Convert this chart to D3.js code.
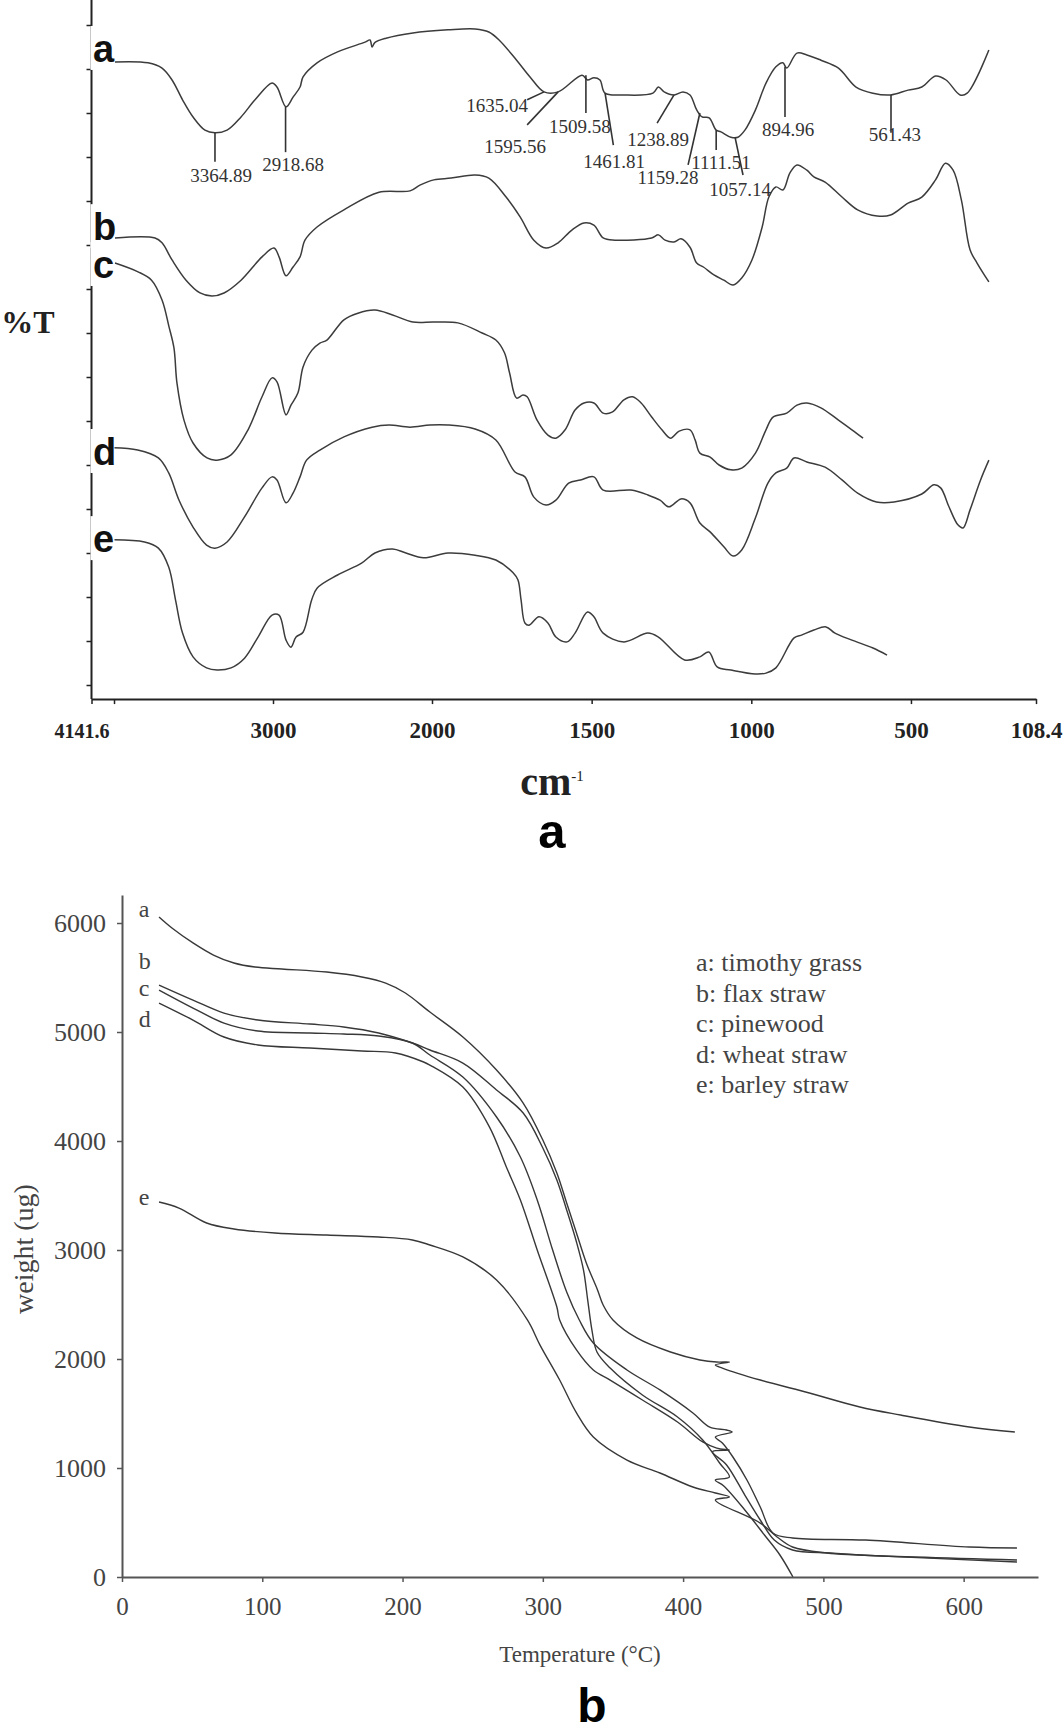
<!DOCTYPE html>
<html><head><meta charset="utf-8">
<script src="https://cdn.jsdelivr.net/npm/d3@7"></script>
<style>body{margin:0;background:#fff}svg{display:block}</style>
</head><body>
<svg id="c" width="1063" height="1733"></svg>
<script>
// ---------------- DATA: panel a (FTIR) ----------------
const ftirXTicks = [4141.6, 4000, 3000, 2000, 1500, 1000, 500, 108.4];
const ftirXTickLabels = ["4141.6", "", "3000", "2000", "1500", "1000", "500", "108.4"];
const ftirYTicks = [0,10,20,30,40,50,60,70,80,90,100,110,120,130,140,150];
const ftirYExtent = [-3.2, 155.7];
const spectrumLetters = ["a","b","c","d","e"];
const spectrumLetterY = [141.6, 101.1, 92.5, 50.0, 30.2];

const specA = [[3994,141.6],[3786,141.4],[3698,140.2],[3635,137.5],[3569,133.0],[3503,129.1],[3428,126.1],[3365,125.5],[3289,126.1],[3201,129.1],[3113,133.0],[3006,136.8],[2975,135.9],[2918,131.4],[2874,133.6],[2830,135.9],[2811,138.2],[2723,141.4],[2594,143.9],[2421,146.1],[2390,146.6],[2377,145.0],[2360,146.0],[2289,147.0],[2120,148.2],[1950,148.9],[1865,149.1],[1822,148.4],[1790,146.6],[1735,142.0],[1693,138.2],[1649,134.8],[1605,134.8],[1530,138.6],[1513,137.5],[1493,138.0],[1474,137.5],[1458,134.5],[1399,134.1],[1308,134.5],[1291,135.9],[1273,134.8],[1242,134.1],[1214,134.8],[1192,134.1],[1171,130.7],[1154,129.1],[1132,128.9],[1110,126.1],[1095,125.7],[1064,124.5],[1042,124.5],[1020,126.1],[987,130.7],[954,136.8],[923,140.5],[901,141.4],[889,140.2],[857,143.6],[826,143.2],[782,142.0],[727,140.2],[672,135.9],[619,134.5],[564,134.1],[509,135.2],[466,135.9],[423,138.4],[390,137.5],[346,134.1],[324,134.5],[256,144.3]];
const specB = [[3994,101.6],[3742,101.6],[3698,100.5],[3635,96.6],[3547,92.0],[3459,89.1],[3384,88.4],[3308,89.1],[3201,92.0],[3069,97.3],[2994,99.3],[2962,97.3],[2918,93.0],[2874,95.0],[2830,97.3],[2799,101.1],[2723,104.1],[2554,108.0],[2333,112.0],[2138,112.3],[2076,113.6],[1994,114.8],[1940,115.2],[1865,115.9],[1822,115.2],[1768,110.9],[1724,106.4],[1681,101.1],[1643,99.3],[1605,100.5],[1562,103.4],[1524,105.0],[1493,104.5],[1464,101.6],[1427,101.1],[1312,101.6],[1291,102.3],[1270,101.1],[1242,100.7],[1220,101.4],[1192,99.5],[1171,95.9],[1150,95.0],[1117,93.2],[1086,92.0],[1057,90.9],[1030,92.5],[998,96.6],[966,104.1],[945,110.9],[923,113.2],[901,112.5],[879,116.4],[857,118.2],[826,117.0],[804,115.5],[769,114.3],[716,110.9],[667,108.0],[606,106.6],[564,106.8],[509,109.5],[466,110.9],[423,114.8],[392,118.6],[368,117.0],[342,110.2],[315,98.9],[293,95.9],[256,91.6]];
const specC = [[3994,95.9],[3849,93.9],[3764,92.0],[3698,87.5],[3654,81.4],[3623,76.6],[3604,68.6],[3560,60.2],[3503,55.0],[3415,51.6],[3352,51.1],[3264,52.3],[3157,58.0],[3069,65.5],[3006,69.8],[2975,68.9],[2918,61.4],[2887,63.6],[2843,66.4],[2811,72.3],[2755,76.1],[2705,77.7],[2661,78.4],[2554,83.0],[2466,84.5],[2359,85.2],[2248,84.1],[2120,82.5],[1994,82.5],[1919,82.3],[1843,80.0],[1800,78.4],[1773,75.5],[1757,70.9],[1735,65.2],[1715,65.9],[1702,65.5],[1671,60.2],[1637,56.8],[1612,56.1],[1583,58.0],[1552,62.5],[1524,64.1],[1493,64.1],[1464,61.8],[1436,62.0],[1399,64.8],[1372,65.5],[1345,64.1],[1312,60.9],[1280,58.0],[1253,56.1],[1226,57.7],[1192,58.0],[1176,55.7],[1161,52.7],[1129,51.8],[1101,50.0],[1064,48.9],[1030,49.3],[987,52.7],[954,58.0],[932,60.9],[889,61.8],[857,63.6],[826,64.1],[782,63.0],[727,60.2],[685,58.0],[650,56.1]];
const specD = [[4003,53.9],[3851,53.4],[3721,51.6],[3656,48.2],[3591,42.0],[3503,35.9],[3418,31.8],[3365,31.1],[3289,32.5],[3179,38.2],[3069,44.8],[3006,47.3],[2975,46.6],[2918,41.4],[2874,43.6],[2830,47.3],[2789,51.1],[2705,53.4],[2554,56.4],[2377,58.6],[2271,59.1],[2138,58.6],[2013,59.1],[1950,59.1],[1865,58.2],[1800,55.7],[1740,48.4],[1709,47.3],[1681,42.7],[1643,40.9],[1612,42.0],[1572,45.9],[1535,46.6],[1493,47.3],[1464,44.3],[1377,44.3],[1324,43.2],[1286,42.0],[1258,40.5],[1220,42.3],[1192,41.4],[1161,36.8],[1129,34.8],[1086,31.4],[1057,29.3],[1030,30.7],[987,38.0],[948,45.9],[923,48.2],[889,49.3],[866,51.6],[826,50.7],[769,49.5],[716,46.6],[667,43.6],[608,41.6],[553,41.6],[466,43.4],[428,45.5],[407,44.8],[381,40.5],[353,36.4],[337,35.7],[315,39.8],[282,46.6],[256,51.1]];
const specE = [[4003,33.0],[3808,32.5],[3721,31.1],[3656,26.8],[3613,19.3],[3569,11.8],[3503,6.4],[3418,3.9],[3352,3.4],[3264,3.9],[3179,6.1],[3094,10.9],[3006,15.9],[2962,15.9],[2918,10.2],[2887,8.6],[2855,10.9],[2811,12.0],[2757,19.3],[2723,22.0],[2594,25.0],[2443,27.7],[2359,30.0],[2248,30.9],[2164,30.0],[2053,28.9],[1950,30.0],[1865,29.5],[1800,28.4],[1746,25.5],[1731,23.9],[1721,19.3],[1709,14.1],[1696,13.6],[1665,15.5],[1637,14.1],[1612,10.9],[1577,9.8],[1552,11.8],[1513,16.6],[1493,15.5],[1464,11.8],[1399,9.8],[1324,11.8],[1291,10.9],[1209,5.7],[1161,6.4],[1133,7.5],[1107,4.1],[1064,3.4],[987,2.5],[954,2.7],[923,3.9],[866,10.7],[841,11.4],[804,12.5],[766,13.2],[738,11.8],[685,10.2],[619,8.4],[575,6.8]];

const peakLabels = ["3364.89","2918.68","1635.04","1595.56","1509.58","1461.81","1238.89","1159.28","1111.51","1057.14","894.96","561.43"];
const peakLeaders = [[3365,125.5,3365,118.9],[2921,131.4,2921,121.1],[1649,134.8,1702,133.0],[1605,134.8,1702,127.3],[1518,138.6,1518,130.0],[1458,134.5,1432,122.7],[1242,134.1,1295,127.7],[1161,130.0,1198,118.2],[1110,126.1,1110,121.6],[1051,124.5,1026,115.9],[894.5,140.5,894.5,129.1],[562.5,134.1,562.5,125.5]];
const peakLabelPos = [[3327,114.3],[2874,116.8],[1796,130.2],[1740,120.9],[1537,125.5],[1430,117.5],[1292,122.5],[1261,113.9],[1095,117.3],[1035,111.1],[885,124.8],[550,123.6]];

// ---------------- DATA: panel b (TGA) ----------------
const tgaXTicks = [0,100,200,300,400,500,600];
const tgaYTicks = [0,1000,2000,3000,4000,5000,6000];
const tgaLetters = ["a","b","c","d","e"];
const tgaLetterW = [6055, 5580, 5330, 5046, 3413];
const legendItems = ["a: timothy grass","b: flax straw","c: pinewood","d: wheat straw","e: barley straw"];

const tgaA = [[26.4,6055],[35.6,5954],[50.6,5817],[65.2,5706],[79.8,5633],[94.8,5596],[114,5578],[146,5550],[171,5505],[188,5449],[202,5358],[219.5,5183],[243,4954],[267,4651],[286,4348],[300,4009],[310,3706],[317,3431],[324,3156],[331,2881],[339,2633],[343,2495],[350,2358],[367,2193],[391,2064],[412,1991],[424,1972],[433,1972],[423,1945],[428,1917],[455,1807],[490,1688],[526,1560],[555,1486],[604,1376],[636.5,1330]];
const tgaB = [[26.4,5431],[50.6,5293],[72.7,5174],[96.9,5110],[134,5073],[158,5046],[183,4991],[207,4899],[219.5,4835],[243,4715],[267,4468],[286,4257],[300,3936],[310,3642],[317,3367],[324,3073],[329,2816],[332,2541],[335,2266],[338.6,2064],[348,1917],[371,1670],[396,1468],[414,1257],[426,1046],[433,917],[423,890],[429,835],[444,615],[458,385],[469,202],[478.3,0]];
const tgaC = [[26.4,5385],[50.6,5220],[72.7,5082],[96.9,5009],[134,4991],[158,4982],[183,4963],[207,4899],[219.5,4789],[243,4587],[267,4220],[284,3853],[296,3459],[307,3000],[317,2615],[326,2358],[336,2147],[360,1899],[383.5,1716],[407,1505],[419,1376],[431,1349],[435,1330],[423,1284],[428,1229],[435.5,1101],[445.5,890],[455,642],[464,404],[478,358],[530,339],[604,275],[638,266]];
const tgaD = [[26.4,5266],[50.6,5110],[72.7,4954],[96.9,4881],[134,4853],[171,4826],[195,4807],[215,4725],[219.5,4697],[243,4495],[262,4128],[274,3761],[284,3459],[296,3000],[310,2477],[312,2358],[324,2083],[336,1899],[348,1807],[371,1624],[396,1422],[414,1239],[424,1183],[433,1165],[421,1150],[431,1028],[444,752],[455,523],[465,339],[478,248],[505,220],[526,202],[638,156]];
const tgaE = [[26.4,3440],[40.6,3385],[60.3,3248],[79.8,3193],[109,3156],[146,3137],[183,3119],[207,3092],[219.5,3046],[243,2936],[267,2725],[289,2358],[298,2128],[312,1807],[324,1505],[336,1284],[360,1073],[383.5,954],[407,826],[423,771],[433,734],[423,706],[455,495],[467,367],[478,275],[502.5,220],[526,202],[638,138]];

// ---------------- DRAW ----------------
const svg = d3.select("#c");
const SERIF = "'Liberation Serif','Times New Roman',serif";
const SANS = "'Liberation Sans',Arial,sans-serif";

// ===== Panel a =====
const xF = d3.scaleLinear().domain([4141.6, 2000, 108.4]).range([91.5, 432, 1036]);
const yF = d3.scaleLinear().domain([0, 150]).range([685, 25]);
const lineF = d3.line().x(d => xF(d[0])).y(d => yF(d[1])).curve(d3.curveCatmullRom.alpha(0.5));

const pA = svg.append("g");
pA.append("g").selectAll("path").data([specA, specB, specC, specD, specE]).join("path")
  .attr("d", lineF).attr("fill", "none").attr("stroke", "#3c3c3c").attr("stroke-width", 1.5);

// y axis (unlabelled ticks)
const gYF = pA.append("g").attr("transform", `translate(${xF(4141.6)},0)`)
  .call(d3.axisLeft(yF).tickValues(ftirYTicks).tickSize(5).tickFormat(""));
gYF.select(".domain").remove();
gYF.selectAll(".tick line").attr("stroke", "#222").attr("stroke-width", 1.5);
gYF.append("line").attr("x1", 0).attr("x2", 0).attr("y1", yF(ftirYExtent[1])).attr("y2", yF(ftirYExtent[0]))
  .attr("stroke", "#222").attr("stroke-width", 2);

// x axis
const gXF = pA.append("g").attr("transform", `translate(0,${yF(ftirYExtent[0])})`)
  .call(d3.axisBottom(xF).tickValues(ftirXTicks).tickSize(5).tickSizeOuter(0).tickFormat((d, i) => ftirXTickLabels[i]));
gXF.select(".domain").attr("stroke", "#222").attr("stroke-width", 2);
gXF.selectAll(".tick line").attr("stroke", "#222").attr("stroke-width", 1.5);
gXF.selectAll("text").attr("dy", null).attr("y", 39).attr("font-family", SERIF).attr("font-weight", "bold")
  .attr("font-size", (d, i) => i === 0 ? 20 : 23).attr("fill", "#222").attr("dx", (d, i) => i === 0 ? -10 : 0);

// letters with white backing that interrupts the axis
const letG = pA.append("g");
spectrumLetters.forEach((L, i) => {
  const by = yF(spectrumLetterY[i]);
  letG.append("rect").attr("x", xF(4141.6) - 1).attr("y", by - 36).attr("width", 24).attr("height", 44).attr("fill", "#fff");
});
spectrumLetters.forEach((L, i) => {
  const by = yF(spectrumLetterY[i]);
  letG.append("text").attr("x", xF(4141.6) + 1.5).attr("y", by).text(L)
    .attr("font-family", SANS).attr("font-weight", "bold").attr("font-size", 38).attr("fill", "#111");
});

// peak leaders and labels
pA.append("g").selectAll("line").data(peakLeaders).join("line")
  .attr("x1", d => xF(d[0])).attr("y1", d => yF(d[1])).attr("x2", d => xF(d[2])).attr("y2", d => yF(d[3]))
  .attr("stroke", "#333").attr("stroke-width", 1.6);
pA.append("g").selectAll("text").data(peakLabels).join("text")
  .attr("x", (d, i) => xF(peakLabelPos[i][0])).attr("y", (d, i) => yF(peakLabelPos[i][1]))
  .attr("text-anchor", "middle").attr("font-family", SERIF).attr("font-size", 19).attr("fill", "#333")
  .text(d => d);

// axis titles
pA.append("text").attr("x", 28).attr("y", 333).attr("text-anchor", "middle").attr("font-family", SERIF)
  .attr("font-weight", "bold").attr("font-size", 32).attr("fill", "#222").text("%T");
const cmT = pA.append("text").attr("x", 552).attr("y", 795).attr("text-anchor", "middle").attr("font-family", SERIF)
  .attr("font-weight", "bold").attr("font-size", 40).attr("fill", "#222");
cmT.append("tspan").text("cm");
cmT.append("tspan").attr("font-size", 15).attr("font-weight", "normal").attr("dy", -14).text("-1");
pA.append("text").attr("x", 552).attr("y", 848).attr("text-anchor", "middle").attr("font-family", SANS)
  .attr("font-weight", "bold").attr("font-size", 49).attr("fill", "#000").text("a");

// ===== Panel b =====
const xT = d3.scaleLinear().domain([0, 653]).range([122, 1038]);
const yT = d3.scaleLinear().domain([0, 6257]).range([1577, 895]);
const lineT = d3.line().x(d => xT(d[0])).y(d => yT(d[1])).curve(d3.curveCatmullRom.alpha(0.5));

const pB = svg.append("g");
pB.append("g").selectAll("path").data([tgaA, tgaB, tgaC, tgaD, tgaE]).join("path")
  .attr("d", lineT).attr("fill", "none").attr("stroke", "#383838").attr("stroke-width", 1.4);

const gYT = pB.append("g").attr("transform", `translate(${xT(0)},0)`)
  .call(d3.axisLeft(yT).tickValues(tgaYTicks).tickFormat(d3.format("d")).tickSize(5).tickSizeOuter(0).tickPadding(11));
gYT.select(".domain").attr("stroke", "#555").attr("stroke-width", 2);
gYT.selectAll(".tick line").attr("stroke", "#555").attr("stroke-width", 1.5);
gYT.selectAll("text").attr("font-family", SERIF).attr("font-size", 26).attr("fill", "#444").attr("dy", "0.33em");

const gXT = pB.append("g").attr("transform", `translate(0,${yT(0)})`)
  .call(d3.axisBottom(xT).tickValues(tgaXTicks).tickSize(5).tickSizeOuter(0));
gXT.select(".domain").attr("stroke", "#555").attr("stroke-width", 2);
gXT.selectAll(".tick line").attr("stroke", "#555").attr("stroke-width", 1.5);
gXT.selectAll("text").attr("dy", null).attr("y", 38).attr("font-family", SERIF).attr("font-size", 25).attr("fill", "#444");

// curve letters
pB.append("g").selectAll("text").data(tgaLetters).join("text")
  .attr("x", xT(12)).attr("y", (d, i) => yT(tgaLetterW[i])).attr("font-family", SERIF).attr("font-size", 24)
  .attr("fill", "#444").text(d => d);

// legend
pB.append("g").selectAll("text").data(legendItems).join("text")
  .attr("x", 696).attr("y", (d, i) => 971 + i * 30.5).attr("font-family", SERIF).attr("font-size", 26)
  .attr("fill", "#444").text(d => d);

// axis titles
pB.append("text").attr("x", 580).attr("y", 1662).attr("text-anchor", "middle").attr("font-family", SERIF)
  .attr("font-size", 23).attr("fill", "#444").text("Temperature (°C)");
pB.append("text").attr("transform", "translate(33,1249) rotate(-90)").attr("text-anchor", "middle")
  .attr("font-family", SERIF).attr("font-size", 28).attr("fill", "#444").text("weight (ug)");
pB.append("text").attr("x", 592).attr("y", 1722).attr("text-anchor", "middle").attr("font-family", SANS)
  .attr("font-weight", "bold").attr("font-size", 48).attr("fill", "#000").text("b");
</script>
</body></html>
